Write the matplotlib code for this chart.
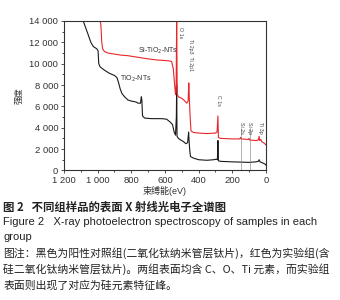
import matplotlib
matplotlib.use("Agg")
import matplotlib.pyplot as plt
from matplotlib.ticker import MultipleLocator, FuncFormatter

plt.rcParams['font.family'] = ['Liberation Sans', 'Noto Sans CJK SC', 'DejaVu Sans']

# TiO2-NTs (black)
tio2_ev = [1090, 1060, 1040, 1025, 1005, 997, 993, 985, 960, 930, 900, 885, 875, 865, 855, 840,
           820, 800, 770, 760, 745, 740, 737, 733, 720, 680, 620, 590, 570, 555, 545, 537, 532,
           530, 528, 520, 507, 490, 475, 465, 459, 456, 452, 448, 430, 400, 350, 310, 295, 288,
           285, 282, 270, 200, 150, 100, 60, 45, 40, 35, 20, 5, 0]
tio2_int = [14200, 12900, 12000, 11600, 11400, 11200, 10000, 9700, 9400, 9100, 8900, 8700, 8200,
            7600, 7200, 6900, 6600, 6500, 6400, 6300, 6300, 6900, 6600, 5100, 4900, 4850, 4850,
            4800, 4550, 4300, 3600, 3300, 5000, 8000, 3200, 3000, 2860, 2700, 2500, 2600, 3600,
            2700, 1800, 1300, 1150, 1000, 950, 1000, 1050, 1000, 2800, 900, 850, 800, 780, 750,
            800, 850, 1000, 800, 700, 600, 500]

# Si-TiO2-NTs (red)
si_ev = [985, 980, 975, 970, 960, 940, 900, 860, 820, 780, 740, 700, 650, 600, 570, 560, 550,
         542, 537, 533, 530, 527, 520, 500, 488, 470, 462, 458, 455, 450, 445, 430, 400, 350,
         300, 290, 285, 282, 270, 200, 155, 150, 147, 105, 100, 97, 60, 45, 40, 37, 30, 25, 10, 0]
si_int = [14200, 13500, 12000, 11400, 11150, 11000, 10900, 10800, 10750, 10650, 10550, 10450,
          10350, 10300, 10250, 10200, 9500, 8000, 7100, 8000, 14500, 7200, 6900, 6750, 6600,
          6300, 6500, 8200, 6800, 5000, 3700, 3550, 3500, 3450, 3500, 3600, 5100, 3100, 3000,
          2950, 2950, 3100, 2950, 2900, 3000, 2850, 2800, 2850, 3200, 2800, 2900, 2700, 2550, 2400]

peak_labels = ["O 1s", "Ti 2p3  Ti 2p1", "C 1s", "Si 2s", "Si 2p", "Ti 3p"]
peak_label_ev = [505, 447, 280, 146, 95, 30]
peak_label_top = [13400, 12300, 7100, 4500, 4500, 4500]
drop_ev = [148, 95]

fig = plt.figure(figsize=(3.4, 3.0), dpi=100)
ax = fig.add_axes([0.188, 0.432, 0.594, 0.498])

ax.plot(tio2_ev, tio2_int, color='#1a1a1a', lw=0.8)
ax.plot(si_ev, si_int, color='#e8262a', lw=0.8)
for x in drop_ev:
    ax.plot([x, x], [0, 4000], color='#777777', lw=0.4)

for t, x, y in zip(peak_labels, peak_label_ev, peak_label_top):
    ax.text(x, y, t, rotation=270, fontsize=3.8, color='#444444', ha='center', va='top')

ax.text(640, 10750, "Si-TiO$_2$-NTs", fontsize=5, color='#333333', ha='center', va='bottom')
ax.text(770, 8100, "TiO$_2$-NTs", fontsize=5, color='#333333', ha='center', va='bottom')

ax.set_xlim(1200, 0)
ax.set_ylim(0, 14000)
ax.xaxis.set_major_locator(MultipleLocator(200))
ax.xaxis.set_minor_locator(MultipleLocator(100))
ax.yaxis.set_major_locator(MultipleLocator(2000))
ax.yaxis.set_minor_locator(MultipleLocator(1000))

def fmt(v, pos):
    v = int(round(v))
    if v >= 1000:
        return f"{v // 1000} {v % 1000:03d}"
    return str(v)

ax.xaxis.set_major_formatter(FuncFormatter(fmt))
ax.yaxis.set_major_formatter(FuncFormatter(fmt))
ax.tick_params(which='major', direction='out', length=2.5, width=0.6, labelsize=6.8, pad=1.5, colors='#333333')
ax.tick_params(which='minor', direction='out', length=1.5, width=0.5)
for s in ax.spines.values():
    s.set_linewidth(0.8)
    s.set_color('#333333')

ax.set_ylabel("强度", fontsize=6, labelpad=4, color='#333333')
ax.set_xlabel("束缚能(eV)", fontsize=6.5, labelpad=1, color='#333333')

cap_fam = ['Liberation Sans', 'Noto Sans CJK SC']
fig.text(0.01, 1 - 207 / 300, "图 2   不同组样品的表面 X 射线光电子全谱图", fontsize=8.2, fontweight='bold',
         family=['Noto Sans CJK SC'], va='center', color='#222222')
fig.text(0.01, 1 - 222 / 300, "Figure 2   X-ray photoelectron spectroscopy of samples in each",
         fontsize=8.0, family=cap_fam, va='center', color='#222222')
fig.text(0.01, 1 - 237 / 300, "group", fontsize=8.0, family=cap_fam, va='center', color='#222222')
fig.text(0.01, 1 - 253 / 300, "图注：黑色为阳性对照组(二氧化钛纳米管层钛片)，红色为实验组(含",
         fontsize=7.8, family=['Noto Sans CJK SC'], va='center', color='#222222')
fig.text(0.01, 1 - 269 / 300, "硅二氧化钛纳米管层钛片)。两组表面均含 C、O、Ti 元素，而实验组",
         fontsize=7.8, family=['Noto Sans CJK SC'], va='center', color='#222222')
fig.text(0.01, 1 - 285 / 300, "表面则出现了对应为硅元素特征峰。",
         fontsize=7.8, family=['Noto Sans CJK SC'], va='center', color='#222222')

fig.savefig("out.png", dpi=100)
